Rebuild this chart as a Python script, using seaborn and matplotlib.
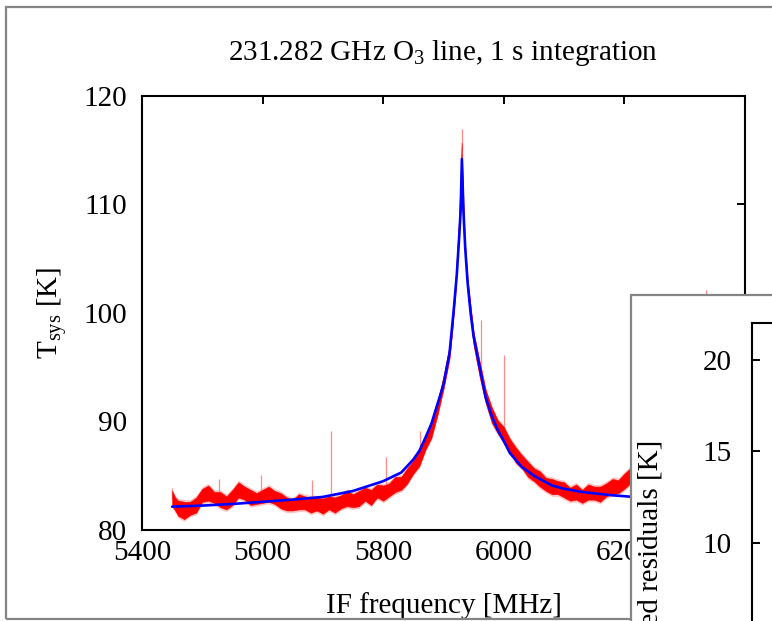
import numpy as np
import pandas as pd
import matplotlib
matplotlib.use("Agg")
import matplotlib.pyplot as plt
import seaborn as sns
from matplotlib.patches import Rectangle

# ---------------- data ----------------
red_f = [5450, 5455, 5460, 5470, 5480, 5490, 5500, 5510, 5520, 5530,
         5540, 5550, 5560, 5570, 5580, 5590, 5600, 5610, 5620, 5630,
         5640, 5650, 5660, 5670, 5680, 5690, 5700, 5710, 5720, 5730,
         5740, 5750, 5760, 5770, 5780, 5790, 5800, 5810, 5820, 5830,
         5840, 5850, 5860, 5870, 5880, 5890, 5900, 5910, 5915, 5920,
         5925, 5928, 5930, 5932, 5935, 5940, 5945, 5950, 5960, 5970,
         5980, 5990, 6000, 6010, 6020, 6030, 6040, 6050, 6060, 6070,
         6080, 6090, 6100, 6110, 6120, 6130, 6140, 6150, 6160, 6170,
         6180, 6190, 6200, 6210, 6250, 6300, 6350, 6400]
red_mid = [82.9, 82.4, 82.0, 81.8, 82.0, 82.3, 83.2, 83.4, 83.0, 82.8,
           82.5, 83.0, 83.7, 83.4, 83.0, 82.9, 83.1, 83.3, 83.0, 82.7,
           82.4, 82.3, 82.6, 82.5, 82.3, 82.4, 82.2, 82.5, 82.3, 82.6,
           82.9, 82.7, 82.9, 83.3, 83.0, 83.6, 83.4, 83.7, 84.2, 84.3,
           85.0, 85.8, 86.6, 88.0, 89.2, 91.2, 93.6, 96.4, 99.2, 102.6,
           107.5, 111.5, 115.0, 111.5, 106.5, 102.5, 100.0, 97.6, 94.8, 92.3,
           90.6, 89.5, 88.8, 87.8, 86.9, 86.3, 85.6, 85.1, 84.7, 84.2,
           84.0, 83.9, 83.7, 83.3, 83.5, 83.1, 83.5, 83.4, 83.3, 83.7,
           84.0, 84.0, 84.5, 85.0, 85.2, 85.0, 84.8, 84.6]
red_half = [0.7, 0.6, 0.7, 0.8, 0.6, 0.7, 0.6, 0.7, 0.5, 0.7,
            0.6, 0.7, 0.7, 0.6, 0.7, 0.5, 0.6, 0.7, 0.6, 0.7,
            0.6, 0.5, 0.7, 0.6, 0.7, 0.6, 0.7, 0.6, 0.7, 0.6,
            0.7, 0.6, 0.7, 0.6, 0.7, 0.6, 0.7, 0.6, 0.7, 0.6,
            0.7, 0.6, 0.7, 0.6, 0.7, 0.6, 0.6, 0.6, 0.6, 0.6,
            0.6, 0.6, 0.7, 0.6, 0.6, 0.6, 0.6, 0.6, 0.7, 0.6,
            0.7, 0.6, 0.7, 0.6, 0.7, 0.6, 0.7, 0.6, 0.7, 0.6,
            0.7, 0.6, 0.7, 0.6, 0.7, 0.6, 0.7, 0.6, 0.7, 0.6,
            0.7, 0.6, 0.7, 0.7, 0.6, 0.7, 0.6, 0.7]

fit_f = [5450, 5500, 5550, 5600, 5650, 5700, 5750, 5800, 5830, 5850,
         5860, 5870, 5880, 5890, 5900, 5910, 5917, 5922, 5926, 5928.5,
         5930.5, 5933, 5936, 5940, 5945, 5950, 5960, 5970, 5980, 5990,
         6000, 6010, 6030, 6050, 6080, 6100, 6130, 6180, 6210, 6300, 6400]
fit_t = [82.15, 82.25, 82.4, 82.6, 82.8, 83.05, 83.6, 84.5, 85.3, 86.5,
         87.3, 88.5, 89.8, 91.6, 93.4, 96.3, 100.3, 103.5, 107.0, 109.5,
         114.2, 109.5, 106.0, 102.8, 100.0, 97.8, 95.0, 92.2, 90.5, 89.2,
         88.2, 87.1, 85.8, 85.0, 84.1, 83.8, 83.5, 83.2, 83.07, 82.8, 82.6]

spike_f = [5450, 5528, 5598, 5682, 5713, 5805, 5861, 5930, 5963, 6000, 6335]
spike_base = [82.9, 83.0, 83.0, 82.3, 82.5, 83.5, 86.6, 115.0, 94.5, 88.8, 85.0]
spike_top = [83.9, 84.7, 85.1, 84.6, 89.1, 86.7, 89.1, 117.0, 99.4, 96.1, 102.1]

x_ticks = [5400, 5600, 5800, 6000, 6200, 6400]
y_ticks = [80, 90, 100, 110, 120]
inset_ticks = [10, 15, 20]

title = "231.282 GHz O$_3$ line, 1 s integration"
xlabel = "IF frequency [MHz]"
ylabel = r"T$_\mathrm{sys}$ [K]"
inset_ylabel = "Averaged residuals [K]"

# ---------------- style ----------------
sns.set_theme(style="white")
plt.rcParams['font.family'] = ['Liberation Serif', 'DejaVu Serif']
plt.rcParams['mathtext.fontset'] = 'custom'
plt.rcParams['mathtext.rm'] = 'Liberation Serif'
plt.rcParams['mathtext.it'] = 'Liberation Serif:italic'
plt.rcParams['mathtext.bf'] = 'Liberation Serif:bold'
plt.rcParams['text.color'] = 'black'
plt.rcParams['axes.labelcolor'] = 'black'
plt.rcParams['xtick.color'] = 'black'
plt.rcParams['ytick.color'] = 'black'
FS = 21
TFS = 21

W, H = 772, 621
fig = plt.figure(figsize=(W / 100, H / 100), dpi=100)
fig.patch.set_facecolor('white')

def fx(px):
    return px / W

def fy(py):
    return 1 - py / H

# outer grey frame
fig.patches.append(Rectangle((fx(6), fy(619)), fx(W + 20 - 6), (619 - 7) / H,
                             transform=fig.transFigure, fill=False,
                             ec='#858585', lw=1.6, zorder=1))

ax = fig.add_axes([fx(142), fy(530), (745 - 142) / W, (530 - 96) / H])
ax.set_facecolor('white')

red_df = pd.DataFrame({'f': red_f, 'mid': red_mid, 'half': red_half})
fit_df = pd.DataFrame({'f': fit_f, 't': fit_t})

ax.fill_between(red_df['f'], red_df['mid'] - red_df['half'] - 0.2,
                red_df['mid'] + red_df['half'] + 0.2,
                color='#ffc4c4', lw=0, zorder=2)
ax.fill_between(red_df['f'], red_df['mid'] - red_df['half'],
                red_df['mid'] + red_df['half'], color='#ff0000', lw=0.4,
                ec='#ff0000', zorder=3)
ax.vlines(spike_f, spike_base, spike_top, color='#ff8c8c', lw=0.9, zorder=2)
sns.lineplot(data=fit_df, x='f', y='t', ax=ax, color='#0000ff', lw=1.9,
             zorder=4, legend=False)

ax.set_xlim(5400, 6400)
ax.set_ylim(80, 120)
ax.set_xticks(x_ticks)
ax.set_yticks(y_ticks)
ax.tick_params(direction='in', length=6, width=1.4, top=True, right=True,
               labelsize=TFS, colors='black')
ax.tick_params(axis='y', pad=11)
ax.tick_params(axis='x', pad=7)
for s in ax.spines.values():
    s.set_visible(True)
    s.set_color('black')
    s.set_linewidth(1.5)
ax.set_title(title, fontsize=FS, pad=26)
ax.set_xlabel(xlabel, fontsize=FS, labelpad=19)
ax.set_ylabel(ylabel, fontsize=FS, labelpad=10)

# ---------------- inset (cut off at figure edge) ----------------
fig.patches.append(Rectangle((fx(631), fy(H + 40)), fx(W + 40 - 631), (H + 40 - 295) / H,
                             transform=fig.transFigure, fc='white',
                             ec='#858585', lw=1.6, zorder=5))
ax_in = fig.add_axes([fx(751.5), fy(700), (950 - 751.5) / W, (700 - 323) / H])
ax_in.set_zorder(6)
ax_in.set_facecolor('white')
ax_in.set_ylim(22 - (700 - 323) * 5 / 91.5, 22)
ax_in.set_xlim(0, 1)
ax_in.set_xticks([])
ax_in.set_yticks(inset_ticks)
ax_in.tick_params(direction='in', length=6, width=1.4, labelsize=TFS, pad=14,
                  colors='black', left=True)
for s in ax_in.spines.values():
    s.set_visible(True)
    s.set_color('black')
    s.set_linewidth(1.5)
fig.text(fx(651), fy(440), inset_ylabel, rotation=90, ha='center', va='top',
         fontsize=FS, zorder=7)

fig.savefig('out.png', dpi=100)
